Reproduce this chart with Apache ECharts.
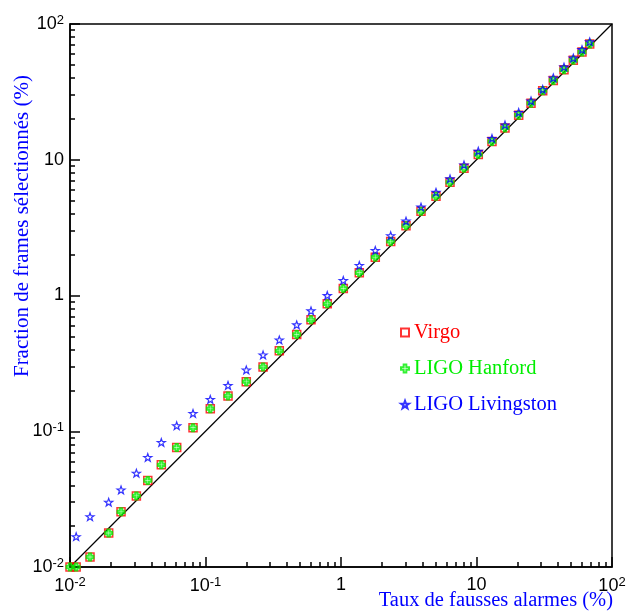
<!DOCTYPE html>
<html>
<head>
<meta charset="utf-8">
<script src="https://cdn.jsdelivr.net/npm/echarts@6/dist/echarts.min.js"></script>
<style>html,body{margin:0;padding:0;background:#fff}#c{width:629px;height:611px}</style>
</head>
<body>
<div id="c"></div>
<script>
const xValues = [0.01, 0.0111, 0.01405, 0.0193, 0.0238, 0.0309, 0.0375, 0.0472, 0.0613, 0.0809, 0.1085, 0.1466, 0.2, 0.266, 0.3505, 0.471, 0.6006, 0.792, 1.04, 1.365, 1.791, 2.327, 3.018, 3.894, 5.024, 6.375, 8.087, 10.31, 13.01, 16.23, 20.48, 25.25, 30.81, 36.88, 44.23, 51.81, 60.06, 68.46];
const virgoY = [0.01, 0.01, 0.01185, 0.0178, 0.0255, 0.0334, 0.0434, 0.0566, 0.0759, 0.1061, 0.1466, 0.182, 0.232, 0.298, 0.391, 0.516, 0.662, 0.868, 1.126, 1.47, 1.917, 2.503, 3.268, 4.169, 5.378, 6.82, 8.656, 10.92, 13.62, 17.17, 21.3, 26.12, 32.3, 38.4, 45.98, 53.97, 62.14, 71.2];
const hanfordY = [0.01, 0.01, 0.01185, 0.0178, 0.0255, 0.0334, 0.0434, 0.0566, 0.0759, 0.1061, 0.1466, 0.182, 0.232, 0.298, 0.391, 0.516, 0.662, 0.868, 1.126, 1.47, 1.917, 2.503, 3.268, 4.169, 5.378, 6.82, 8.656, 10.92, 13.62, 17.17, 21.3, 26.12, 32.3, 38.4, 45.98, 53.97, 62.14, 71.2];
const livingstonY = [null, 0.01675, 0.0235, 0.030, 0.037, 0.0491, 0.0641, 0.0827, 0.1098, 0.1353, 0.1717, 0.2178, 0.2829, 0.365, 0.471, 0.608, 0.771, 1.0, 1.29, 1.665, 2.148, 2.758, 3.535, 4.484, 5.76, 7.24, 9.155, 11.55, 14.34, 18.06, 22.3, 27.16, 32.96, 40.1, 48.2, 56.1, 64.8, 73.97];
const seriesNames = ['Virgo', 'LIGO Hanford', 'LIGO Livingston'];
const seriesColors = ['#ff0000', '#00ee00', '#0000ff'];
const diagonal = [[0.01, 0.01], [100, 100]];
const xTitle = 'Taux de fausses alarmes (%)';
const yTitle = 'Fraction de frames sélectionnés (%)';

function pairs(ys){ const out=[]; for(let i=0;i<xValues.length;i++){ if(ys[i]!=null) out.push([xValues[i], ys[i]]); } return out; }

function fmt(v){
  const e = Math.round(Math.log10(v));
  if (e === 0) return '{b|1}';
  if (e === 1) return '{b|10}';
  return '{b|10}{s|' + e + '}';
}
const rich = {
  b: {fontFamily: 'Liberation Sans', fontSize: 18, color: '#000'},
  s: {fontFamily: 'Liberation Sans', fontSize: 13, color: '#000', verticalAlign: 'top', padding: [0,0,8,0]}
};

const starPath = 'path://M0,-1 L0.235,-0.324 L0.951,-0.309 L0.380,0.124 L0.588,0.809 L0,0.4 L-0.588,0.809 L-0.380,0.124 L-0.951,-0.309 L-0.235,-0.324 Z';
const crossPath = 'path://M-1,-3 L1,-3 L1,-1 L3,-1 L3,1 L1,1 L1,3 L-1,3 L-1,1 L-3,1 L-3,-1 L-1,-1 Z';

function logAxis(labelMargin){
  return {
    type: 'log', logBase: 10, min: 0.01, max: 100, interval: 1,
    axisLine: {show: true, lineStyle: {color: '#000', width: 1.5}},
    axisTick: {show: true, inside: true, length: 10, lineStyle: {color: '#000', width: 1.5}},
    minorTick: {show: true, splitNumber: 9, length: 5, lineStyle: {color: '#000', width: 1.5}},
    axisLabel: {formatter: fmt, rich: rich, margin: labelMargin, showMinLabel: true, showMaxLabel: true},
    splitLine: {show: false},
    minorSplitLine: {show: false}
  };
}

const chart = echarts.init(document.getElementById('c'), null, {renderer: 'canvas'});
chart.setOption({
  animation: false,
  grid: {left: 70, right: 17, top: 24, bottom: 44, show: true, borderColor: '#000', borderWidth: 1.5},
  xAxis: logAxis(9),
  yAxis: logAxis(6),
  legend: {
    data: [
      {name: seriesNames[0], textStyle: {color: seriesColors[0]}},
      {name: seriesNames[1], textStyle: {color: seriesColors[1]}},
      {name: seriesNames[2], textStyle: {color: seriesColors[2]}}
    ],
    orient: 'vertical', left: 395, top: 317, itemWidth: 8, itemHeight: 8, itemGap: 15, itemTextGap: 5,
    textStyle: {fontFamily: 'Liberation Serif', fontSize: 20.5, lineHeight: 20}
  },
  graphic: [
    {type: 'text', x: 613, y: 601, z: 10, style: {text: xTitle, fill: '#0000ff', font: '20.5px "Liberation Serif"', align: 'right', verticalAlign: 'middle'}},
    {type: 'text', x: 22, y: 75, z: 10, rotation: Math.PI/2, style: {text: yTitle, fill: '#0000ff', font: '21px "Liberation Serif"', align: 'right', verticalAlign: 'middle'}}
  ],
  series: [
    {type: 'line', data: diagonal, symbol: 'none', silent: true, lineStyle: {color: '#000', width: 1.2}, z: 1},
    {name: seriesNames[0], type: 'scatter', data: pairs(virgoY), symbol: 'rect', symbolSize: 8,
      itemStyle: {color: 'rgba(0,0,0,0)', borderColor: seriesColors[0], borderWidth: 1.5}, z: 4},
    {name: seriesNames[1], type: 'scatter', data: pairs(hanfordY), symbol: crossPath, symbolSize: 7,
      itemStyle: {color: 'rgba(0,0,0,0)', borderColor: seriesColors[1], borderWidth: 2}, z: 5},
    {name: seriesNames[2], type: 'scatter', data: pairs(livingstonY), symbol: starPath, symbolSize: 8, symbolKeepAspect: true,
      itemStyle: {color: 'rgba(0,0,0,0)', borderColor: seriesColors[2], borderWidth: 1.2}, z: 6}
  ]
});
</script>
</body>
</html>
